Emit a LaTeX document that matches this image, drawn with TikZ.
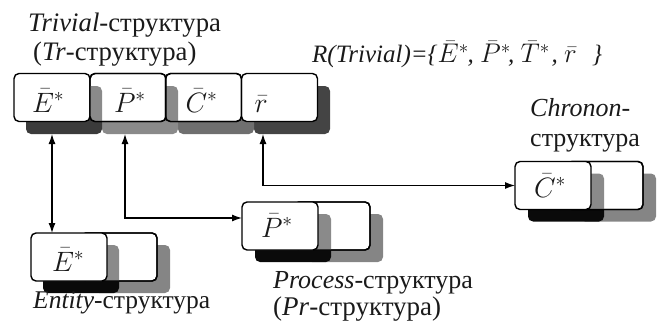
\RequirePackage{fix-cm}
\documentclass[tikz,border=0pt]{standalone}
\usepackage{fontspec}
\setmainfont{Liberation Serif}
\usetikzlibrary{arrows.meta}
\definecolor{shDarkA}{HTML}{3B3B3B}
\definecolor{shDarkB}{HTML}{444444}
\definecolor{shLight}{HTML}{8A8A8A}
\definecolor{shMid}{HTML}{6F6F6F}
\definecolor{shBack}{HTML}{858585}
\definecolor{shFront}{HTML}{0A0A0A}
\definecolor{txtc}{HTML}{1A1A1A}
\newcommand{\boxlab}[2]{\makebox[76pt][l]{\hspace*{#1}#2}}
\newcommand{\mlab}[1]{{\fontsize{27}{30}\selectfont$#1$}}
\begin{document}
\begin{tikzpicture}[x=1pt,y=-1pt,
  sbox/.style={draw=black, line width=1.4pt, rounded corners=5pt, fill=white,
    minimum width=76pt, minimum height=48pt, inner sep=0pt, outer sep=0pt,
    font=\fontsize{28}{30}\selectfont, text=txtc, text depth=0pt},
  shad/.style={rounded corners=5pt, minimum width=76pt, minimum height=48pt,
    inner sep=0pt, outer sep=0pt},
  rim/.style={draw=black, line width=1.4pt, rounded corners=5pt},
  txt/.style={font=\fontsize{26}{30}\selectfont, text=txtc, inner sep=0pt, anchor=base west},
  conn/.style={line width=1.3pt, {Latex[length=10pt,width=7pt]}-{Latex[length=10pt,width=7pt]}}]
\useasboundingbox (0,0) rectangle (664,321);

% ---------- top row (Trivial-structure) ----------
\node[shad, fill=shDarkB] (b4s) at (292,110) {};
\node[shad, fill=shMid]   (b3s) at (216,110) {};
\node[shad, fill=shLight] (b2s) at (140,110) {};
\node[shad, fill=shDarkA] (b1s) at (64,110) {};

\node[sbox, text height=29pt] (b1) at (52,97.5)    {\boxlab{18pt}{$\bar{E}^{*}$}};
\node[sbox, text height=29pt] (b2) at (128,97.5)   {\boxlab{24pt}{$\bar{P}^{*}$}};
\node[sbox, text height=29pt] (b3) at (203.5,97.5) {\boxlab{20pt}{$\bar{C}^{*}$}};
\node[sbox, text height=29pt] (b4) at (279.5,97.5) {\boxlab{13pt}{$\bar{r}$}};

\begin{scope}
  \clip[rounded corners=5pt] (b2.north west) rectangle (b2.south east);
  \fill[shLight, rounded corners=5pt] (b1s.north west) rectangle (b1s.south east);
\end{scope}
\begin{scope}
  \clip[rounded corners=5pt] (b3.north west) rectangle (b3.south east);
  \fill[shLight, rounded corners=5pt] (b2s.north west) rectangle (b2s.south east);
\end{scope}
\draw[rim] (b2.north west) rectangle (b2.south east);
\draw[rim] (b3.north west) rectangle (b3.south east);

% ---------- Entity structure ----------
\node[shad, fill=shBack]  (eBs) at (132,269) {};
\node[shad, fill=shFront] (eFs) at (81,269) {};
\node[sbox] (eB) at (119,257) {};
\begin{scope}
  \clip[rounded corners=5pt] (eB.north west) rectangle (eB.south east);
  \fill[shLight, rounded corners=5pt] (eFs.north west) rectangle (eFs.south east);
\end{scope}
\draw[rim] (eB.north west) rectangle (eB.south east);
\node[sbox, text height=28pt] (eF) at (69,257) {\boxlab{21pt}{$\bar{E}^{*}$}};

% ---------- Process structure ----------
\node[shad, fill=shBack]  (pBs) at (345,238) {};
\node[shad, fill=shFront] (pFs) at (293,238) {};
\node[sbox] (pB) at (332,226) {};
\begin{scope}
  \clip[rounded corners=5pt] (pB.north west) rectangle (pB.south east);
  \fill[shLight, rounded corners=5pt] (pFs.north west) rectangle (pFs.south east);
\end{scope}
\draw[rim] (pB.north west) rectangle (pB.south east);
\node[sbox, text height=22pt] (pF) at (280,226) {\boxlab{19pt}{$\bar{P}^{*}$}};

% ---------- Chronon structure ----------
\node[shad, fill=shBack]  (cBs) at (618,197.5) {};
\node[shad, fill=shFront] (cFs) at (566,197.5) {};
\node[sbox] (cB) at (605,185.5) {};
\begin{scope}
  \clip[rounded corners=5pt] (cB.north west) rectangle (cB.south east);
  \fill[shLight, rounded corners=5pt] (cFs.north west) rectangle (cFs.south east);
\end{scope}
\draw[rim] (cB.north west) rectangle (cB.south east);
\node[sbox, text height=23pt] (cF) at (553,185.5) {\boxlab{19pt}{$\bar{C}^{*}$}};

% ---------- connectors ----------
\coordinate (a1) at (52,134);
\coordinate (a2) at (125,134);
\coordinate (a3) at (263,134);
\draw[conn] (a1) -- (a1 |- eF.north);
\draw[conn] (a2) |- ([yshift=8pt]pF.west);
\draw[conn] (a3) |- (cF.west);

% ---------- texts ----------
\node[txt, font=\fontsize{26.7}{30}\selectfont] (t1) at (28,32) {\textit{Trivial}-структура};
\node[txt, font=\fontsize{26.7}{30}\selectfont] (t2) at (33,60) {(\textit{Tr}-структура)};
\node[txt, font=\fontsize{25}{30}\selectfont] (t3) at (312,63)
  {\textit{R(Trivial)=\{}\makebox[30pt][l]{\mlab{\bar{E}^{*}}}\textit{, }\makebox[28pt][l]{\mlab{\bar{P}^{*}}}\textit{, }\makebox[31pt][l]{\mlab{\bar{T}^{*}}}\textit{, }\makebox[28pt][l]{\mlab{\bar{r}}}\textit{\}}};
\node[txt] (t4) at (530,116) {\textit{Chronon}-};
\node[txt] (t5) at (530,146) {структура};
\node[txt] (t6) at (273,288) {\textit{Process}-структура};
\node[txt, font=\fontsize{27}{30}\selectfont] (t7) at (273,315) {(\textit{Pr}-структура)};
\node[txt, font=\fontsize{25.5}{30}\selectfont] (t8) at (33,308) {\textit{Entity}-структура};
\end{tikzpicture}
\end{document}
